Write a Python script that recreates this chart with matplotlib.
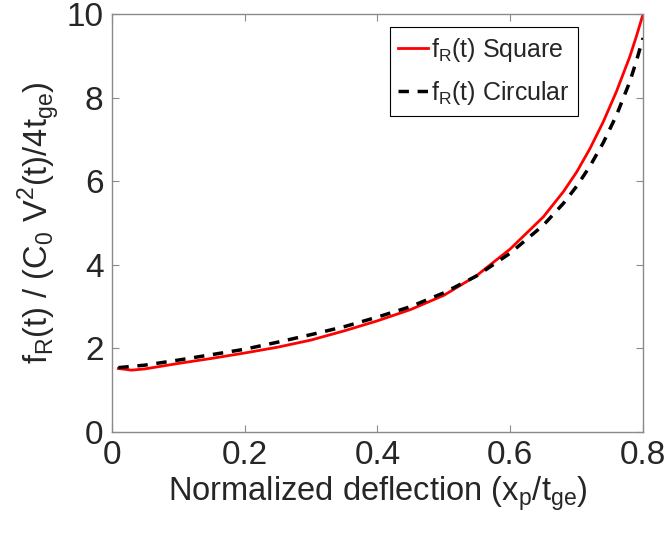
import matplotlib
matplotlib.use("Agg")
import matplotlib.pyplot as plt

plt.rcParams['font.family'] = ['Liberation Sans', 'DejaVu Sans']
plt.rcParams['mathtext.fontset'] = 'custom'
plt.rcParams['mathtext.rm'] = 'Liberation Sans'

# Data
x_square = [0.01, 0.03, 0.05, 0.10, 0.15, 0.20, 0.25, 0.30, 0.35, 0.40, 0.45, 0.50,
            0.55, 0.60, 0.65, 0.68, 0.70, 0.72, 0.74, 0.76, 0.78, 0.79, 0.80]
y_square = [1.52, 1.48, 1.51, 1.64, 1.76, 1.89, 2.03, 2.20, 2.42, 2.66, 2.93, 3.27,
            3.75, 4.38, 5.15, 5.75, 6.22, 6.78, 7.42, 8.15, 8.98, 9.47, 10.00]

x_circular = [0.01, 0.05, 0.10, 0.15, 0.20, 0.25, 0.30, 0.35, 0.40, 0.45, 0.50,
              0.55, 0.60, 0.65, 0.68, 0.70, 0.72, 0.74, 0.76, 0.78, 0.79, 0.80]
y_circular = [1.54, 1.60, 1.72, 1.85, 1.98, 2.15, 2.33, 2.52, 2.75, 3.00, 3.33,
              3.74, 4.28, 4.95, 5.47, 5.88, 6.36, 6.92, 7.58, 8.38, 8.88, 9.43]

legend_labels = [r'f$_\mathregular{R}$(t) Square', r'f$_\mathregular{R}$(t) Circular']
x_ticks = [0, 0.2, 0.4, 0.6, 0.8]
x_tick_labels = ['0', '0.2', '0.4', '0.6', '0.8']
y_ticks = [0, 2, 4, 6, 8, 10]

fig = plt.figure(figsize=(6.65, 5.33), dpi=100)
ax = fig.add_axes([0.168, 0.1895, 0.799, 0.784])

ax.plot(x_square, y_square, color='#ff0000', lw=2.0, label=legend_labels[0])
ax.plot(x_circular, y_circular, color='black', lw=2.5, dashes=(3, 2.5),
        label=legend_labels[1])

ax.set_xlim(0, 0.8)
ax.set_ylim(0, 10)
ax.set_xticks(x_ticks)
ax.set_xticklabels(x_tick_labels)
ax.set_yticks(y_ticks)

spine_color = '#8a8a8a'
for s in ax.spines.values():
    s.set_color(spine_color)
    s.set_linewidth(1.0)
ax.tick_params(direction='in', top=True, right=True, length=5, width=0.8,
               color=spine_color, labelsize=24, labelcolor='#262626', pad=6)

ax.set_xlabel(r'Normalized deflection (x$_\mathregular{p}$/t$_\mathregular{ge}$)',
              fontsize=23.5, color='#262626', labelpad=2)
ax.set_ylabel(r'f$_\mathregular{R}$(t) / (C$_\mathregular{0}$ V$^\mathregular{2}$(t)/4t$_\mathregular{ge}$)',
              fontsize=23.5, color='#262626', labelpad=4)

leg = ax.legend(loc='upper left', bbox_to_anchor=(0.523, 0.968), fontsize=18,
                frameon=True, fancybox=False, edgecolor='black', framealpha=1,
                handlelength=1.2, handletextpad=0.1, borderpad=0.35,
                labelspacing=0.6, borderaxespad=0)
leg.get_frame().set_linewidth(0.8)
for t in leg.get_texts():
    t.set_color('#262626')

fig.savefig('out.png', dpi=100)
